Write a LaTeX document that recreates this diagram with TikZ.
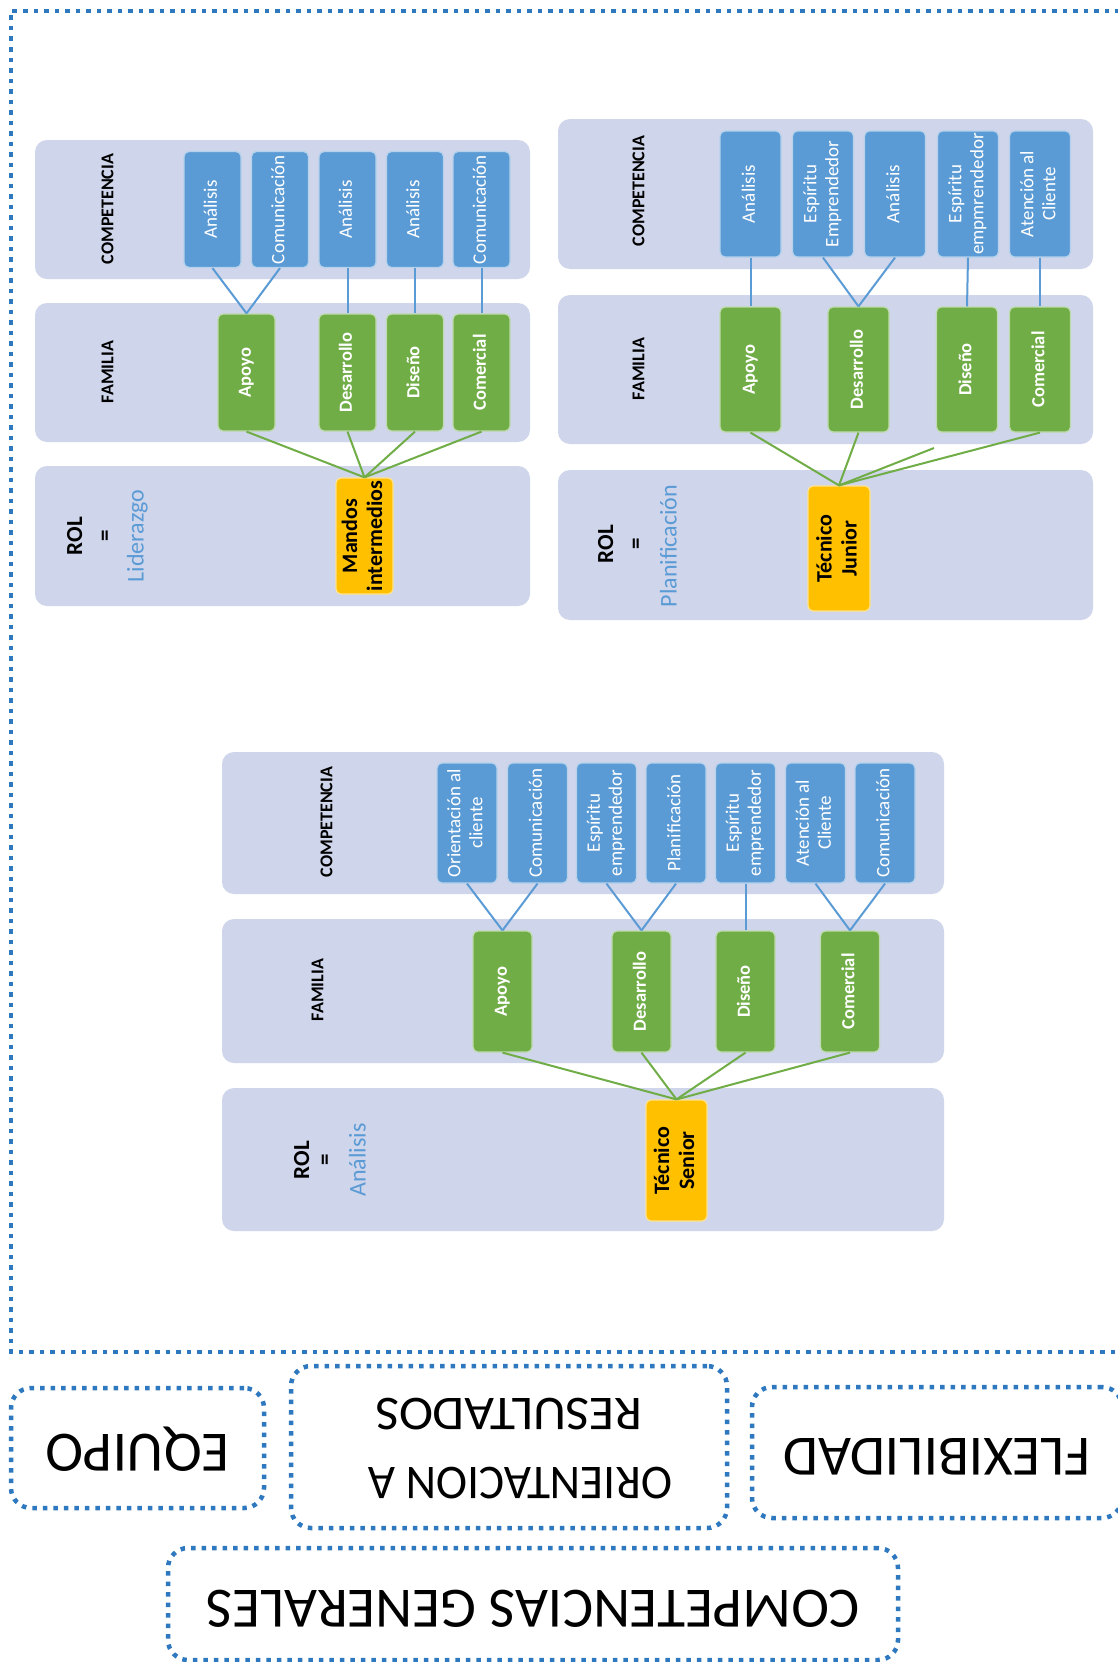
\documentclass[tikz,border=0pt]{standalone}
\usepackage{fontspec}
\setmainfont{Carlito}
\usepackage{graphicx}
\definecolor{bandc}{HTML}{CFD5EA}
\definecolor{bluec}{HTML}{5B9BD5}
\definecolor{greenc}{HTML}{70AD47}
\definecolor{yellowc}{HTML}{FFC000}
\definecolor{dotc}{HTML}{2E78C0}
\definecolor{rolc}{HTML}{5B9BD5}
\newcommand{\vt}[1]{\rotatebox{90}{\begin{tabular}{@{}c@{}}#1\end{tabular}}}
\newcommand{\ut}[1]{\rotatebox{180}{\begin{tabular}{@{}c@{}}#1\end{tabular}}}
\tikzset{
  band/.style={fill=bandc, rounded corners=12pt},
  boxbase/.style={rectangle, rounded corners=5pt, inner sep=0pt, line width=1.2pt},
  comp/.style={boxbase, fill=bluec, draw=white!55!bluec, text=white, font=\fontsize{19}{22}\selectfont},
  fam/.style={boxbase, fill=greenc, draw=white!55!greenc, text=white, font=\bfseries\fontsize{18.5}{22}\selectfont},
  rol/.style={boxbase, fill=yellowc, draw=white!55!yellowc, text=black, font=\bfseries\fontsize{22}{25}\selectfont},
  bl/.style={draw=bluec, line width=2pt},
  gl/.style={draw=greenc, line width=2pt},
  hdr/.style={font=\bfseries\fontsize{18}{22}\selectfont, inner sep=0pt},
  rolhdr/.style={font=\bfseries\fontsize{23}{26}\selectfont, inner sep=0pt},
  rolname/.style={text=rolc, font=\fontsize{24}{28}\selectfont, inner sep=0pt},
  dotline/.style={draw=dotc, line width=4.5pt, dash pattern=on 4.5pt off 6pt},
  genbox/.style={dotline, rounded corners=20pt, inner sep=0pt, font=\fontsize{57}{69}\selectfont},
}
\begin{document}
\begin{tikzpicture}[x=1pt,y=-1pt]
\useasboundingbox (0,0) rectangle (1118,1662);
\fill[white] (0,0) rectangle (1118,1662);
\clip (0,0) rectangle (1118,1662);

% outer frame
\draw[dotline] (1130,11) -- (11,11) -- (11,1352) -- (1130,1352);

% ================= Panel A (Liderazgo) =================
\fill[band] (35,140) rectangle (530,279);
\fill[band] (35,303) rectangle (530,442);
\fill[band] (35,466) rectangle (530,606);
\node[hdr] (aH1) at (109,209) {\vt{COMPETENCIA}};
\node[hdr] (aH2) at (109,372) {\vt{FAMILIA}};
\node[rolhdr] (aH3) at (77,536) {\vt{ROL}};
\node[rolhdr] (aEq) at (107,536) {\vt{=}};
\node[rolname] (aRn) at (138,536) {\vt{Liderazgo}};
\begin{scope}[comp/.append style={minimum width=57pt,minimum height=116pt},
  fam/.append style={minimum width=57pt,minimum height=117pt},
  rol/.append style={minimum width=57pt,minimum height=116pt}]
\node[comp] (a1) at (212.5,209.5) {\vt{Análisis}};
\node[comp] (a2) at (280,209.5) {\vt{Comunicación}};
\node[comp] (a3) at (347.5,209.5) {\vt{Análisis}};
\node[comp] (a4) at (415,209.5) {\vt{Análisis}};
\node[comp] (a5) at (481.5,209.5) {\vt{Comunicación}};
\node[fam] (aF1) at (246.5,372.5) {\vt{Apoyo}};
\node[fam] (aF2) at (347.5,372.5) {\vt{Desarrollo}};
\node[fam] (aF3) at (415,372.5) {\vt{Diseño}};
\node[fam] (aF4) at (481.5,372.5) {\vt{Comercial}};
\node[rol] (aR) at (364.5,536) {\vt{Mandos\\intermedios}};
\end{scope}
\draw[bl] (a1.south) -- (aF1.north);
\draw[bl] (a2.south) -- (aF1.north);
\draw[bl] (a3.south) -- (aF2.north);
\draw[bl] (a4.south) -- (aF3.north);
\draw[bl] (a5.south) -- (aF4.north);
\draw[gl] (aF1.south) -- (aR.north);
\draw[gl] (aF2.south) -- (aR.north);
\draw[gl] (aF3.south) -- (aR.north);
\draw[gl] (aF4.south) -- (aR.north);

% ================= Panel B (Planificación) =================
\fill[band] (558,119) rectangle (1093,269);
\fill[band] (558,295) rectangle (1093,444);
\fill[band] (558,470) rectangle (1093,620);
\node[hdr] (bH1) at (640,191) {\vt{COMPETENCIA}};
\node[hdr] (bH2) at (640,369) {\vt{FAMILIA}};
\node[rolhdr] (bH3) at (608,544) {\vt{ROL}};
\node[rolhdr] (bEq) at (638,544) {\vt{=}};
\node[rolname] (bRn) at (671,546) {\vt{Planificación}};
\begin{scope}[comp/.append style={minimum width=61pt,minimum height=126pt},
  fam/.append style={minimum width=61pt,minimum height=125pt},
  rol/.append style={minimum width=62pt,minimum height=125pt}]
\node[comp] (b1) at (750.5,194) {\vt{Análisis}};
\node[comp] (b2) at (823,194) {\vt{Espíritu\\Emprendedor}};
\node[comp] (b3) at (895,194) {\vt{Análisis}};
\node[comp] (b4) at (968,194) {\vt{Espíritu\\empmrendedor}};
\node[comp] (b5) at (1040,194) {\vt{Atención al\\Cliente}};
\node[fam] (bF1) at (750.5,369.5) {\vt{Apoyo}};
\node[fam] (bF2) at (858.5,369.5) {\vt{Desarrollo}};
\node[fam] (bF3) at (967,369.5) {\vt{Diseño}};
\node[fam] (bF4) at (1040,369.5) {\vt{Comercial}};
\node[rol] (bR) at (839,548.5) {\vt{Técnico\\Junior}};
\end{scope}
\coordinate (bStray) at (934,448);
\draw[bl] (b1.south) -- (bF1.north);
\draw[bl] (b2.south) -- (bF2.north);
\draw[bl] (b3.south) -- (bF2.north);
\draw[bl] (b4.south) -- (bF3.north);
\draw[bl] (b5.south) -- (bF4.north);
\draw[gl] (bF1.south) -- (bR.north);
\draw[gl] (bF2.south) -- (bR.north);
\draw[gl] (bR.north) -- (bStray);
\draw[gl] (bF4.south) -- (bR.north);

% ================= Panel C (Análisis) =================
\fill[band] (222,752) rectangle (944,894);
\fill[band] (222,919) rectangle (944,1063);
\fill[band] (222,1088) rectangle (944,1231);
\node[hdr] (cH1) at (328,822) {\vt{COMPETENCIA}};
\node[hdr] (cH2) at (319,990) {\vt{FAMILIA}};
\node[rolhdr] (cH3) at (304,1160) {\vt{ROL}};
\node[rolhdr] (cEq) at (327,1160) {\vt{=}};
\node[rolname] (cRn) at (360,1160) {\vt{Análisis}};
\begin{scope}[comp/.append style={minimum width=60pt,minimum height=120pt},
  fam/.append style={minimum width=59pt,minimum height=121pt},
  rol/.append style={minimum width=61pt,minimum height=121pt}]
\node[comp] (c1) at (467,823) {\vt{Orientación al\\cliente}};
\node[comp] (c2) at (537.5,823) {\vt{Comunicación}};
\node[comp] (c3) at (606.5,823) {\vt{Espíritu\\emprendedor}};
\node[comp] (c4) at (676,823) {\vt{Planificación}};
\node[comp] (c5) at (745.5,823) {\vt{Espíritu\\emprendedor}};
\node[comp] (c6) at (815.5,823) {\vt{Atención al\\Cliente}};
\node[comp] (c7) at (885,823) {\vt{Comunicación}};
\node[fam] (cF1) at (502.5,991.5) {\vt{Apoyo}};
\node[fam] (cF2) at (641.5,991.5) {\vt{Desarrollo}};
\node[fam] (cF3) at (745.5,991.5) {\vt{Diseño}};
\node[fam] (cF4) at (850,991.5) {\vt{Comercial}};
\node[rol] (cR) at (676.5,1160.5) {\vt{Técnico\\Senior}};
\end{scope}
\draw[bl] (c1.south) -- (cF1.north);
\draw[bl] (c2.south) -- (cF1.north);
\draw[bl] (c3.south) -- (cF2.north);
\draw[bl] (c4.south) -- (cF2.north);
\draw[bl] (c5.south) -- (cF3.north);
\draw[bl] (c6.south) -- (cF4.north);
\draw[bl] (c7.south) -- (cF4.north);
\draw[gl] (cF1.south) -- (cR.north);
\draw[gl] (cF2.south) -- (cR.north);
\draw[gl] (cF3.south) -- (cR.north);
\draw[gl] (cF4.south) -- (cR.north);

% ================= Bottom boxes =================
\node[genbox, minimum width=253pt, minimum height=120pt] (equipo) at (137.5,1448) {\ut{EQUIPO}};
\node[genbox, minimum width=436pt, minimum height=162pt, font=\fontsize{48.5}{69}\selectfont] (orient) at (509,1447) {\ut{\scalebox{0.97}[1]{ORIENTACION A}\kern22pt\\\scalebox{1.06}[1]{RESULTADOS}}};
\node[genbox, minimum width=370pt, minimum height=131pt] (flex) at (937,1452.5) {\ut{FLEXIBILIDAD}};
\node[genbox, minimum width=730pt, minimum height=112pt] (generales) at (533,1604) {\ut{COMPETENCIAS GENERALES}};
\end{tikzpicture}
\end{document}
